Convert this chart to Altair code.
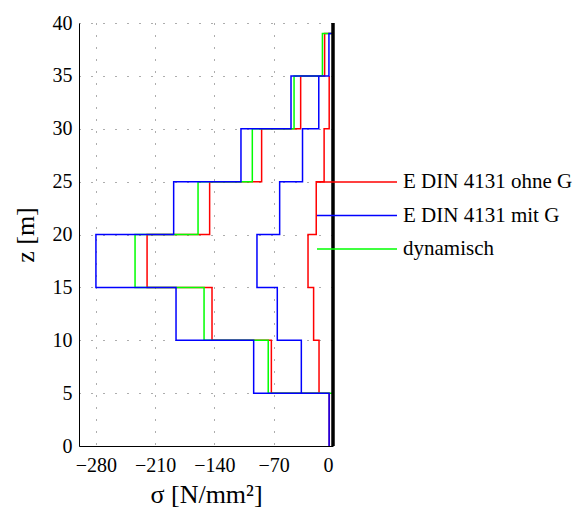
import altair as alt
import pandas as pd

# Section borders along the tower height [m]
z_levels = [0, 5, 10, 15, 20, 25, 30, 35, 39, 40]
z_inner = [5, 10, 15, 20, 25, 30, 35]

series_names = ["E DIN 4131 ohne G", "E DIN 4131 mit G", "dynamisch"]
series_colors = ["#ff0000", "#0000ff", "#00ff00"]

# Stress per section [N/mm²]: outer profile over full height, inner profile z = 5..35
ohne_outer = [-4.4, -72.8, -142.9, -219.6, -145.7, -84.3, -38.2, -9.9, 0.0]
ohne_inner = [-16.5, -22.9, -29.5, -19.8, -10.5, -4.5]
mit_outer = [-4.6, -93.7, -185.4, -280.0, -188.2, -108.7, -49.6, -4.8, 0.0]
mit_inner = [-37.4, -65.8, -89.8, -63.0, -36.0, -16.8]
dyn_outer = [0.0, -76.5, -152.3, -233.8, -159.4, -95.3, -46.0, -12.5, 0.0]

x_ticks = [-280, -210, -140, -70, 0]
y_ticks = [0, 5, 10, 15, 20, 25, 30, 35, 40]

FONT = "Liberation Serif"


def step_path(values, edges, name, path):
    rows = []
    for i, v in enumerate(values):
        rows.append({"sigma": v, "z": edges[i], "serie": name, "path": path, "k": 2 * i})
        rows.append({"sigma": v, "z": edges[i + 1], "serie": name, "path": path, "k": 2 * i + 1})
    return rows


red_df = pd.DataFrame(step_path(ohne_outer, z_levels, series_names[0], "a")
                      + step_path(ohne_inner, z_inner, series_names[0], "b"))
blue_df = pd.DataFrame(step_path(mit_outer, z_levels, series_names[1], "a")
                       + step_path(mit_inner, z_inner, series_names[1], "b"))
green_df = pd.DataFrame(step_path(dyn_outer, z_levels, series_names[2], "a"))

x_enc = alt.X(
    "sigma:Q",
    scale=alt.Scale(domain=[-300, 0], nice=False, zero=False),
    axis=alt.Axis(values=x_ticks, title="σ [N/mm²]", format="d",
                  labelFont=FONT, titleFont=FONT),
)
y_enc = alt.Y(
    "z:Q",
    scale=alt.Scale(domain=[0, 40], nice=False),
    axis=alt.Axis(values=y_ticks, title="z [m]", labelFont=FONT, titleFont=FONT),
)
color_enc = alt.Color(
    "serie:N",
    scale=alt.Scale(domain=series_names, range=series_colors),
    legend=alt.Legend(
        title=None,
        orient="none",
        legendX=237,
        legendY=146,
        symbolType="stroke",
        symbolSize=6400,
        symbolStrokeWidth=1.5,
        clipHeight=26,
        labelFont=FONT,
        labelFontSize=21,
        labelColor="black",
        labelOffset=5,
        labelLimit=400,
        rowPadding=7.5,
        padding=0,
    ),
)


def profile(df):
    return alt.Chart(df).mark_line(strokeWidth=1.5, interpolate="linear").encode(
        x=x_enc, y=y_enc, color=color_enc, detail="path:N", order="k:Q"
    )


zero_df = pd.DataFrame({"sigma": [0], "z": [0], "z_top": [40]})
zero_line = alt.Chart(zero_df).mark_rule(color="black", strokeWidth=3.5).encode(
    x=alt.X("sigma:Q"), y=alt.Y("z:Q"), y2="z_top:Q"
)

chart = (
    alt.layer(profile(red_df), profile(green_df), profile(blue_df), zero_line)
    .properties(
        width=254,
        height=423,
        autosize=alt.AutoSizeParams(type="none"),
        padding={"left": 79, "top": 23, "right": 243, "bottom": 62},
    )
    .configure_view(stroke=None)
    .configure_axis(
        labelFont=FONT,
        titleFont=FONT,
        labelFontSize=20,
        titleFontSize=26,
        titleFontWeight="normal",
        labelColor="black",
        titleColor="black",
        domainColor="black",
        domainWidth=1,
        ticks=False,
        grid=True,
        gridColor="#333333",
        gridDash=[1, 11],
        gridWidth=1,
        gridOpacity=0.8,
    )
    .configure_axisX(labelPadding=9, titlePadding=6)
    .configure_axisY(labelPadding=7, titlePadding=14)
)

chart.save("out.html", embed_options={"renderer": "svg", "actions": False})
